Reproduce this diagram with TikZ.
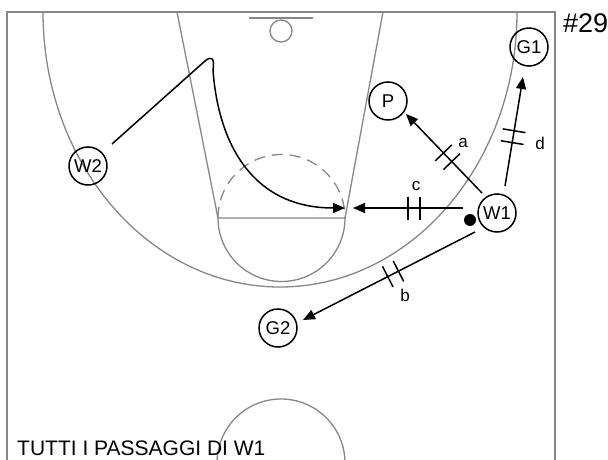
\documentclass[tikz,border=0pt]{standalone}
\usepackage{fontspec}
\setmainfont{Liberation Sans}
\usetikzlibrary{arrows.meta,calc,decorations.markings}
\definecolor{courtgray}{RGB}{135,135,135}
\begin{document}
\begin{tikzpicture}[x=1pt,y=-1pt,
  court/.style={draw=courtgray,line width=1.3pt},
  player/.style={circle,draw,line width=1.5pt,minimum size=38pt,inner sep=0pt,
    font=\fontsize{18.5}{19}\selectfont},
  ballmark/.style={circle,fill,minimum size=12pt,inner sep=0pt},
  pass/.style={line width=1.5pt,-{Triangle[length=12pt,width=10pt]}},
  cutline/.style={line width=1.5pt,-{Triangle[length=12pt,width=10pt]}},
  bars/.style={postaction={decorate,decoration={markings,
    mark=at position #1 with {\draw[line width=1.5pt,-] (-6pt,-11.5pt) -- (-6pt,11.5pt) (6pt,-11.5pt) -- (6pt,11.5pt);}}}},
  passlabel/.style={font=\fontsize{17}{18}\selectfont,inner sep=0pt}
]
\useasboundingbox (0,0) rectangle (608,460);
\fill[white] (0,0) rectangle (608,460);

% half court
\begin{scope}
  \clip (0,0) rectangle (608,460);
  \draw[court] (7,460) -- (7,12) -- (555,12) -- (555,460);
  \draw[court] (177,12) -- (218,218) -- (345,218) -- (383,12);
  \draw[court] (218,218) arc[start angle=180,end angle=360,radius=63.5pt];
  \draw[court,dash pattern=on 11pt off 7pt] (218,218) arc[start angle=180,end angle=0,radius=63.5pt];
  \draw[court] (249,18) -- (313,18);
  \draw[court] (281,31) circle[radius=11pt];
  \draw[court] (43,12) arc[start angle=180,end angle=360,x radius=237pt,y radius=275pt];
  \draw[court] (281,463) circle[radius=64pt];
\end{scope}

% players and ball
\node[player] (G1) at (529,47) {G1};
\node[player] (P) at (388,101) {P};
\node[player] (W2) at (88,166) {W2};
\node[player] (W1) at (497,213) {W1};
\node[player] (G2) at (278,328) {G2};
\node[ballmark] (ball) at (470,220) {};

% pass ends
\coordinate (aFrom) at ($(W1)+(-15,-20)$);
\coordinate (aTo) at ($(P)+(18,13)$);
\coordinate (dFrom) at ($(W1)+(8,-27)$);
\coordinate (dTo) at ($(G1)+(-6,30)$);
\coordinate (cFrom) at ($(W1)+(-34,-5)$);
\coordinate (cTo) at ($(W1)+(-144,-5)$);
\coordinate (bFrom) at ($(W1)+(-22,19)$);
\coordinate (bTo) at ($(G2)+(25,-8)$);

% passes
\draw[pass,bars=49.6pt] (aFrom) -- (aTo);
\draw[pass,bars=50pt] (dFrom) -- (dTo);
\draw[pass,bars=49pt] (cFrom) -- (cTo);
\draw[pass,bars=92pt] (bFrom) -- (bTo);

\node[passlabel] (la) at (463,143) {a};
\node[passlabel] (lb) at (405,295) {b};
\node[passlabel] (lc) at (416,186) {c};
\node[passlabel] (ld) at (540,143) {d};

% cut of W2
\coordinate (cutFrom) at ($(W2)+(24,-22)$);
\coordinate (cutTo) at ($(cTo)+(-8,0)$);
\draw[cutline] (cutFrom) -- (205,61) .. controls (211,56) and (215,57) .. (213,70)
  .. controls (218,140) and (250,208) .. (cutTo);

% captions
\node[anchor=base west,font=\fontsize{21}{24}\selectfont,inner sep=0pt] (title) at (17,455) {TUTTI I PASSAGGI DI W1};
\node[anchor=base west,font=\fontsize{27}{30}\selectfont,inner sep=0pt] (num) at (563,33) {\#29};
\end{tikzpicture}
\end{document}
